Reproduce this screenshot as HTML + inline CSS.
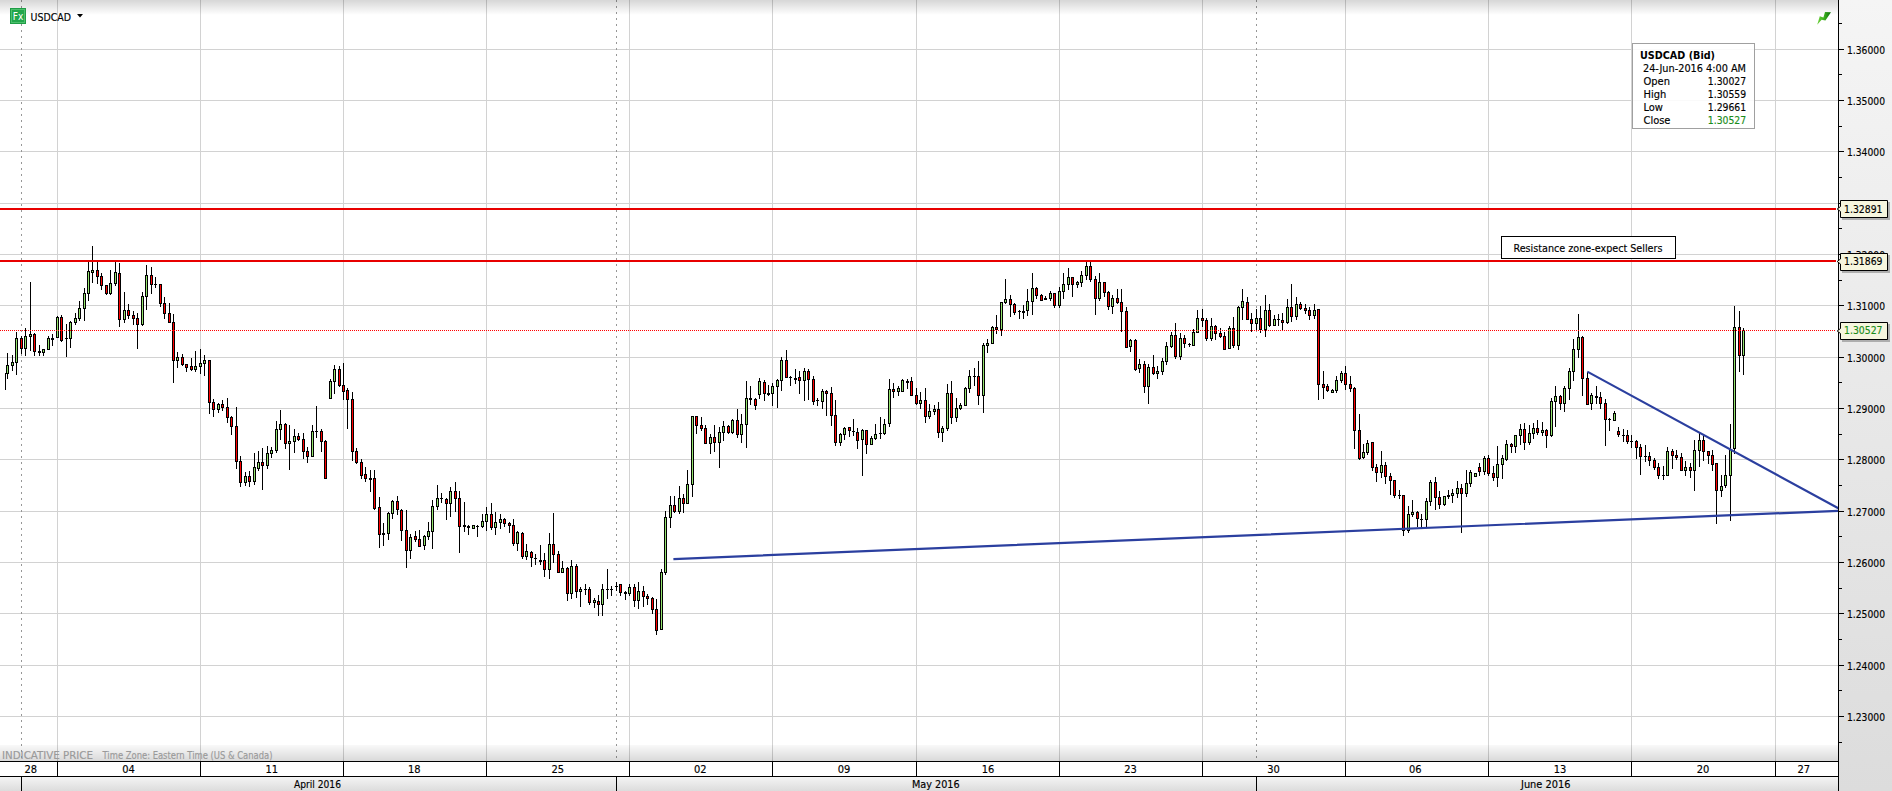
<!DOCTYPE html>
<html><head><meta charset="utf-8"><title>USDCAD</title>
<style>
html,body{margin:0;padding:0;background:#fff;width:1892px;height:791px;overflow:hidden}
svg{display:block}
text{font-family:'DejaVu Sans','Liberation Sans',sans-serif;font-stretch:condensed;font-size:11px;stroke-width:0.15px}
</style></head><body>
<svg width="1892" height="791" viewBox="0 0 1892 791">
<defs>
<linearGradient id="gTop" x1="0" y1="0" x2="0" y2="1">
<stop offset="0" stop-color="#000" stop-opacity="0.16"/><stop offset="1" stop-color="#000" stop-opacity="0"/></linearGradient>
<linearGradient id="gBot" x1="0" y1="0" x2="0" y2="1">
<stop offset="0" stop-color="#000" stop-opacity="0.025"/><stop offset="1" stop-color="#000" stop-opacity="0.15"/></linearGradient>
<linearGradient id="gAxis" x1="0" y1="0" x2="0" y2="1">
<stop offset="0" stop-color="#f5f5f5"/><stop offset="1" stop-color="#dcdcdc"/></linearGradient>
<linearGradient id="gMonth" x1="0" y1="0" x2="0" y2="1">
<stop offset="0" stop-color="#f4f4f4"/><stop offset="1" stop-color="#dcdcdc"/></linearGradient>
<linearGradient id="gIcon" x1="0" y1="0" x2="1" y2="0">
<stop offset="0" stop-color="#6fd23c"/><stop offset="0.5" stop-color="#3cb01e"/><stop offset="1" stop-color="#0a6e0a"/></linearGradient>
<clipPath id="plot"><rect x="5" y="0" width="1833" height="761"/></clipPath>
</defs>

<rect x="0" y="0" width="1838" height="761" fill="#fff"/>
<path d="M0 49.5H1838M0 100.5H1838M0 151.5H1838M0 203.5H1838M0 254.5H1838M0 305.5H1838M0 357.5H1838M0 408.5H1838M0 459.5H1838M0 511.5H1838M0 562.5H1838M0 613.5H1838M0 665.5H1838M0 716.5H1838M57.5 0V761M200.5 0V761M343.5 0V761M486.5 0V761M629.5 0V761M772.5 0V761M916.5 0V761M1059.5 0V761M1202.5 0V761M1345.5 0V761M1488.5 0V761M1631.5 0V761M1775.5 0V761" stroke="#d2d2d2" stroke-width="1" fill="none" shape-rendering="crispEdges"/>
<path d="M21.5 0V761" stroke="#979797" stroke-width="1" stroke-dasharray="2 4" fill="none" shape-rendering="crispEdges"/>
<path d="M616.5 0V761" stroke="#979797" stroke-width="1" stroke-dasharray="2 4" fill="none" shape-rendering="crispEdges"/>
<path d="M1256.5 0V761" stroke="#979797" stroke-width="1" stroke-dasharray="2 4" fill="none" shape-rendering="crispEdges"/>
<g clip-path="url(#plot)" shape-rendering="crispEdges">
<path d="M3 373h3v17h-3zM7 353h1v26h-1zM6 365h3v9h-3zM12 355h1v16h-1zM11 362h3v4h-3zM16 332h1v43h-1zM15 338h3v25h-3zM21 336h1v18h-1zM20 338h3v11h-3zM25 328h1v28h-1zM24 336h3v13h-3zM30 282h1v69h-1zM29 334h3v3h-3zM34 333h1v23h-1zM33 334h3v18h-3zM39 345h1v11h-1zM38 351h3v2h-3zM43 349h1v7h-1zM42 349h3v4h-3zM48 336h1v14h-1zM47 338h3v12h-3zM52 334h1v12h-1zM51 338h3v2h-3zM57 316h1v22h-1zM56 317h3v21h-3zM61 315h1v27h-1zM60 317h3v24h-3zM66 324h1v33h-1zM65 338h3v1h-3zM70 321h1v27h-1zM69 322h3v17h-3zM75 313h1v12h-1zM74 318h3v5h-3zM79 301h1v20h-1zM78 308h3v11h-3zM84 288h1v33h-1zM83 293h3v16h-3zM88 261h1v40h-1zM87 271h3v23h-3zM92 246h1v37h-1zM91 270h3v3h-3zM97 261h1v23h-1zM96 270h3v7h-3zM101 273h1v17h-1zM100 276h3v10h-3zM106 285h1v10h-1zM105 285h3v9h-3zM110 270h1v25h-1zM109 283h3v11h-3zM115 261h1v25h-1zM114 272h3v12h-3zM119 263h1v64h-1zM118 273h3v47h-3zM124 292h1v31h-1zM123 310h3v10h-3zM128 304h1v15h-1zM127 310h3v6h-3zM133 311h1v14h-1zM132 315h3v4h-3zM137 313h1v36h-1zM136 318h3v7h-3zM142 292h1v34h-1zM141 296h3v29h-3zM146 265h1v45h-1zM145 275h3v22h-3zM151 267h1v27h-1zM150 275h3v10h-3zM155 277h1v11h-1zM154 284h3v1h-3zM160 284h1v23h-1zM159 284h3v20h-3zM164 297h1v22h-1zM163 303h3v11h-3zM169 303h1v20h-1zM168 313h3v10h-3zM173 314h1v69h-1zM172 322h3v39h-3zM177 352h1v16h-1zM176 357h3v4h-3zM182 354h1v12h-1zM181 357h3v8h-3zM186 364h1v8h-1zM185 364h3v4h-3zM191 358h1v13h-1zM190 366h3v4h-3zM195 351h1v21h-1zM194 366h3v4h-3zM200 349h1v25h-1zM199 363h3v4h-3zM204 355h1v21h-1zM203 360h3v4h-3zM209 360h1v54h-1zM208 360h3v43h-3zM213 399h1v18h-1zM212 402h3v8h-3zM218 403h1v10h-1zM217 404h3v6h-3zM222 400h1v11h-1zM221 404h3v4h-3zM227 398h1v25h-1zM226 407h3v11h-3zM231 416h1v19h-1zM230 417h3v10h-3zM236 407h1v62h-1zM235 426h3v36h-3zM240 456h1v31h-1zM239 461h3v22h-3zM245 472h1v14h-1zM244 476h3v7h-3zM249 471h1v16h-1zM248 476h3v6h-3zM254 453h1v32h-1zM253 467h3v15h-3zM258 451h1v20h-1zM257 462h3v7h-3zM262 448h1v42h-1zM261 462h3v4h-3zM267 446h1v23h-1zM266 453h3v13h-3zM271 447h1v11h-1zM270 450h3v4h-3zM276 421h1v32h-1zM275 429h3v22h-3zM280 410h1v30h-1zM279 424h3v6h-3zM285 423h1v26h-1zM284 424h3v20h-3zM289 425h1v45h-1zM288 441h3v3h-3zM294 429h1v24h-1zM293 436h3v6h-3zM298 433h1v8h-1zM297 436h3v4h-3zM303 433h1v26h-1zM302 439h3v13h-3zM307 447h1v16h-1zM306 451h3v6h-3zM312 425h1v32h-1zM311 431h3v26h-3zM316 406h1v32h-1zM315 431h3v1h-3zM321 429h1v23h-1zM320 431h3v11h-3zM325 440h1v39h-1zM324 441h3v38h-3zM330 379h1v20h-1zM329 381h3v18h-3zM334 365h1v29h-1zM333 369h3v13h-3zM339 366h1v21h-1zM338 369h3v17h-3zM343 363h1v37h-1zM342 385h3v7h-3zM347 388h1v41h-1zM346 390h3v10h-3zM352 392h1v69h-1zM351 399h3v53h-3zM356 448h1v16h-1zM355 451h3v12h-3zM361 459h1v20h-1zM360 462h3v14h-3zM365 467h1v15h-1zM364 474h3v5h-3zM370 470h1v22h-1zM369 478h3v2h-3zM374 470h1v40h-1zM373 478h3v31h-3zM379 497h1v51h-1zM378 507h3v28h-3zM383 523h1v23h-1zM382 533h3v2h-3zM388 512h1v28h-1zM387 513h3v21h-3zM392 500h1v19h-1zM391 501h3v13h-3zM397 496h1v19h-1zM396 501h3v9h-3zM401 509h1v32h-1zM400 510h3v21h-3zM406 510h1v58h-1zM405 530h3v21h-3zM410 534h1v25h-1zM409 537h3v14h-3zM415 531h1v11h-1zM414 536h3v4h-3zM419 530h1v17h-1zM418 539h3v8h-3zM424 535h1v15h-1zM423 536h3v10h-3zM428 522h1v18h-1zM427 531h3v6h-3zM432 500h1v49h-1zM431 506h3v26h-3zM437 485h1v25h-1zM436 498h3v9h-3zM441 493h1v10h-1zM440 498h3v1h-3zM446 498h1v22h-1zM445 499h3v5h-3zM450 487h1v30h-1zM449 491h3v13h-3zM455 482h1v30h-1zM454 491h3v8h-3zM459 491h1v62h-1zM458 498h3v29h-3zM464 502h1v30h-1zM463 525h3v2h-3zM468 525h1v10h-1zM467 526h3v2h-3zM473 525h1v4h-1zM472 525h3v4h-3zM477 525h1v12h-1zM476 526h3v1h-3zM482 514h1v14h-1zM481 521h3v6h-3zM486 507h1v24h-1zM485 514h3v8h-3zM491 503h1v27h-1zM490 514h3v14h-3zM495 512h1v23h-1zM494 522h3v6h-3zM500 514h1v15h-1zM499 519h3v4h-3zM504 518h1v9h-1zM503 519h3v5h-3zM509 522h1v11h-1zM508 523h3v3h-3zM513 519h1v27h-1zM512 525h3v19h-3zM517 531h1v20h-1zM516 532h3v12h-3zM522 532h1v27h-1zM521 533h3v24h-3zM526 544h1v16h-1zM525 551h3v6h-3zM531 551h1v16h-1zM530 552h3v6h-3zM535 554h1v11h-1zM534 558h3v1h-3zM540 545h1v20h-1zM539 560h3v2h-3zM544 553h1v24h-1zM543 560h3v10h-3zM549 533h1v46h-1zM548 544h3v26h-3zM553 513h1v50h-1zM552 544h3v11h-3zM558 551h1v22h-1zM557 554h3v19h-3zM562 561h1v12h-1zM561 568h3v5h-3zM567 567h1v34h-1zM566 568h3v26h-3zM571 560h1v39h-1zM570 566h3v28h-3zM576 564h1v34h-1zM575 566h3v26h-3zM580 587h1v20h-1zM579 589h3v3h-3zM585 584h1v11h-1zM584 589h3v1h-3zM589 587h1v18h-1zM588 589h3v14h-3zM594 598h1v10h-1zM593 600h3v3h-3zM598 595h1v21h-1zM597 601h3v4h-3zM602 584h1v32h-1zM601 589h3v16h-3zM607 569h1v30h-1zM606 589h3v1h-3zM611 586h1v10h-1zM610 589h3v1h-3zM616 582h1v9h-1zM615 586h3v1h-3zM620 584h1v12h-1zM619 584h3v9h-3zM625 591h1v9h-1zM624 592h3v2h-3zM629 584h1v12h-1zM628 587h3v7h-3zM634 584h1v23h-1zM633 587h3v14h-3zM638 582h1v27h-1zM637 591h3v10h-3zM643 586h1v21h-1zM642 591h3v6h-3zM647 594h1v11h-1zM646 596h3v3h-3zM652 597h1v17h-1zM651 598h3v12h-3zM656 599h1v36h-1zM655 609h3v22h-3zM661 569h1v61h-1zM660 572h3v58h-3zM665 511h1v64h-1zM664 517h3v56h-3zM670 496h1v32h-1zM669 505h3v13h-3zM674 496h1v17h-1zM673 505h3v7h-3zM679 486h1v28h-1zM678 498h3v14h-3zM683 494h1v19h-1zM682 498h3v6h-3zM687 470h1v34h-1zM686 484h3v20h-3zM692 416h1v81h-1zM691 416h3v69h-3zM696 416h1v18h-1zM695 416h3v10h-3zM701 417h1v14h-1zM700 425h3v4h-3zM705 425h1v19h-1zM704 428h3v16h-3zM710 434h1v20h-1zM709 437h3v7h-3zM714 425h1v27h-1zM713 437h3v6h-3zM719 427h1v41h-1zM718 432h3v11h-3zM723 421h1v20h-1zM722 426h3v7h-3zM728 425h1v9h-1zM727 426h3v7h-3zM732 419h1v15h-1zM731 420h3v13h-3zM737 409h1v29h-1zM736 420h3v15h-3zM741 414h1v29h-1zM740 424h3v11h-3zM746 381h1v67h-1zM745 398h3v27h-3zM750 386h1v19h-1zM749 398h3v2h-3zM755 398h1v12h-1zM754 399h3v7h-3zM759 378h1v21h-1zM758 381h3v14h-3zM764 380h1v21h-1zM763 382h3v12h-3zM768 385h1v11h-1zM767 393h3v2h-3zM772 383h1v23h-1zM771 386h3v8h-3zM777 379h1v29h-1zM776 380h3v7h-3zM781 357h1v34h-1zM780 360h3v21h-3zM786 350h1v28h-1zM785 360h3v18h-3zM790 376h1v10h-1zM789 377h3v1h-3zM795 369h1v15h-1zM794 378h3v2h-3zM799 371h1v23h-1zM798 377h3v4h-3zM804 368h1v33h-1zM803 371h3v10h-3zM808 369h1v31h-1zM807 371h3v9h-3zM813 376h1v29h-1zM812 379h3v23h-3zM817 398h1v8h-1zM816 400h3v1h-3zM822 389h1v20h-1zM821 391h3v11h-3zM826 390h1v26h-1zM825 391h3v3h-3zM831 387h1v39h-1zM830 393h3v23h-3zM835 400h1v46h-1zM834 415h3v28h-3zM840 433h1v13h-1zM839 434h3v9h-3zM844 427h1v13h-1zM843 428h3v7h-3zM849 427h1v10h-1zM848 427h3v4h-3zM853 419h1v17h-1zM852 431h3v1h-3zM857 428h1v21h-1zM856 432h3v9h-3zM862 429h1v47h-1zM861 430h3v10h-3zM866 430h1v24h-1zM865 430h3v15h-3zM871 436h1v9h-1zM870 438h3v7h-3zM875 424h1v16h-1zM874 434h3v5h-3zM880 417h1v22h-1zM879 433h3v1h-3zM884 419h1v16h-1zM883 424h3v10h-3zM889 379h1v48h-1zM888 389h3v35h-3zM893 383h1v15h-1zM892 389h3v3h-3zM898 386h1v10h-1zM897 388h3v4h-3zM902 379h1v13h-1zM901 380h3v12h-3zM907 379h1v10h-1zM906 381h3v2h-3zM911 377h1v19h-1zM910 381h3v15h-3zM916 388h1v17h-1zM915 395h3v9h-3zM920 392h1v17h-1zM919 400h3v4h-3zM925 388h1v35h-1zM924 400h3v17h-3zM929 404h1v15h-1zM928 411h3v6h-3zM934 405h1v10h-1zM933 409h3v3h-3zM938 402h1v36h-1zM937 409h3v24h-3zM942 426h1v16h-1zM941 428h3v5h-3zM947 384h1v47h-1zM946 393h3v36h-3zM951 381h1v43h-1zM950 393h3v25h-3zM956 398h1v24h-1zM955 408h3v10h-3zM960 403h1v7h-1zM959 405h3v4h-3zM965 387h1v19h-1zM964 388h3v18h-3zM969 370h1v23h-1zM968 376h3v13h-3zM974 368h1v18h-1zM973 376h3v1h-3zM978 361h1v44h-1zM977 376h3v20h-3zM983 343h1v70h-1zM982 345h3v51h-3zM987 339h1v14h-1zM986 343h3v3h-3zM992 326h1v18h-1zM991 327h3v17h-3zM996 315h1v19h-1zM995 327h3v3h-3zM1001 302h1v34h-1zM1000 302h3v28h-3zM1005 279h1v25h-1zM1004 299h3v4h-3zM1010 295h1v22h-1zM1009 299h3v6h-3zM1014 303h1v12h-1zM1013 304h3v9h-3zM1019 310h1v9h-1zM1018 311h3v1h-3zM1023 305h1v14h-1zM1022 311h3v2h-3zM1027 289h1v27h-1zM1026 301h3v10h-3zM1032 273h1v42h-1zM1031 288h3v14h-3zM1036 287h1v12h-1zM1035 288h3v8h-3zM1041 294h1v7h-1zM1040 295h3v6h-3zM1045 296h1v4h-1zM1044 298h3v2h-3zM1050 291h1v10h-1zM1049 293h3v6h-3zM1054 293h1v15h-1zM1053 293h3v13h-3zM1059 287h1v21h-1zM1058 291h3v15h-3zM1063 273h1v26h-1zM1062 284h3v8h-3zM1068 268h1v22h-1zM1067 277h3v8h-3zM1072 277h1v20h-1zM1071 277h3v8h-3zM1077 281h1v7h-1zM1076 282h3v3h-3zM1081 271h1v16h-1zM1080 275h3v8h-3zM1086 262h1v18h-1zM1085 266h3v10h-3zM1090 262h1v20h-1zM1089 266h3v14h-3zM1095 276h1v39h-1zM1094 279h3v20h-3zM1099 273h1v28h-1zM1098 282h3v17h-3zM1104 282h1v15h-1zM1103 282h3v11h-3zM1108 291h1v19h-1zM1107 292h3v15h-3zM1112 295h1v19h-1zM1111 298h3v9h-3zM1117 289h1v15h-1zM1116 298h3v5h-3zM1121 289h1v43h-1zM1120 302h3v10h-3zM1126 307h1v41h-1zM1125 311h3v37h-3zM1130 339h1v13h-1zM1129 340h3v7h-3zM1135 339h1v32h-1zM1134 340h3v30h-3zM1139 359h1v14h-1zM1138 364h3v5h-3zM1144 361h1v32h-1zM1143 364h3v23h-3zM1148 364h1v40h-1zM1147 367h3v20h-3zM1153 355h1v20h-1zM1152 367h3v7h-3zM1157 366h1v13h-1zM1156 371h3v3h-3zM1162 358h1v17h-1zM1161 361h3v11h-3zM1166 342h1v23h-1zM1165 346h3v16h-3zM1171 332h1v16h-1zM1170 335h3v12h-3zM1175 323h1v36h-1zM1174 335h3v22h-3zM1180 333h1v27h-1zM1179 338h3v19h-3zM1184 335h1v13h-1zM1183 338h3v6h-3zM1189 343h1v4h-1zM1188 344h3v1h-3zM1193 329h1v17h-1zM1192 332h3v14h-3zM1197 310h1v23h-1zM1196 318h3v15h-3zM1202 309h1v18h-1zM1201 318h3v3h-3zM1206 318h1v23h-1zM1205 320h3v19h-3zM1211 318h1v23h-1zM1210 326h3v13h-3zM1215 325h1v15h-1zM1214 326h3v8h-3zM1220 328h1v10h-1zM1219 333h3v4h-3zM1224 332h1v18h-1zM1223 336h3v14h-3zM1229 326h1v23h-1zM1228 328h3v21h-3zM1233 317h1v31h-1zM1232 328h3v18h-3zM1238 306h1v44h-1zM1237 307h3v39h-3zM1242 289h1v31h-1zM1241 301h3v7h-3zM1247 297h1v23h-1zM1246 302h3v18h-3zM1251 313h1v19h-1zM1250 319h3v5h-3zM1256 309h1v21h-1zM1255 318h3v6h-3zM1260 306h1v27h-1zM1259 318h3v12h-3zM1265 295h1v42h-1zM1264 310h3v20h-3zM1269 304h1v23h-1zM1268 310h3v16h-3zM1274 315h1v11h-1zM1273 319h3v7h-3zM1278 314h1v12h-1zM1277 319h3v1h-3zM1282 313h1v17h-1zM1281 320h3v3h-3zM1287 299h1v25h-1zM1286 307h3v16h-3zM1291 284h1v38h-1zM1290 307h3v10h-3zM1296 297h1v23h-1zM1295 304h3v13h-3zM1300 302h1v8h-1zM1299 304h3v5h-3zM1305 304h1v10h-1zM1304 308h3v3h-3zM1309 307h1v13h-1zM1308 310h3v6h-3zM1314 304h1v15h-1zM1313 310h3v6h-3zM1318 309h1v91h-1zM1317 309h3v76h-3zM1323 371h1v28h-1zM1322 384h3v4h-3zM1327 384h1v8h-1zM1326 386h3v5h-3zM1332 389h1v4h-1zM1331 390h3v3h-3zM1336 376h1v17h-1zM1335 380h3v11h-3zM1341 371h1v12h-1zM1340 373h3v8h-3zM1345 366h1v24h-1zM1344 373h3v12h-3zM1350 376h1v16h-1zM1349 384h3v5h-3zM1354 387h1v62h-1zM1353 388h3v43h-3zM1359 414h1v46h-1zM1358 430h3v29h-3zM1363 444h1v15h-1zM1362 452h3v6h-3zM1367 440h1v15h-1zM1366 443h3v10h-3zM1372 442h1v29h-1zM1371 442h3v26h-3zM1376 464h1v18h-1zM1375 467h3v6h-3zM1381 451h1v27h-1zM1380 465h3v8h-3zM1385 462h1v22h-1zM1384 465h3v12h-3zM1390 473h1v22h-1zM1389 476h3v5h-3zM1394 480h1v18h-1zM1393 480h3v16h-3zM1399 490h1v9h-1zM1398 495h3v1h-3zM1403 495h1v41h-1zM1402 495h3v36h-3zM1408 506h1v27h-1zM1407 514h3v17h-3zM1412 500h1v17h-1zM1411 512h3v3h-3zM1417 511h1v16h-1zM1416 512h3v7h-3zM1421 514h1v14h-1zM1420 519h3v1h-3zM1426 498h1v30h-1zM1425 501h3v19h-3zM1430 480h1v26h-1zM1429 482h3v20h-3zM1435 477h1v33h-1zM1434 482h3v16h-3zM1439 491h1v18h-1zM1438 497h3v8h-3zM1444 496h1v10h-1zM1443 496h3v9h-3zM1448 490h1v9h-1zM1447 495h3v2h-3zM1452 489h1v14h-1zM1451 493h3v3h-3zM1457 481h1v17h-1zM1456 488h3v6h-3zM1461 484h1v49h-1zM1460 488h3v6h-3zM1466 470h1v27h-1zM1465 483h3v11h-3zM1470 470h1v17h-1zM1469 472h3v12h-3zM1475 473h1v4h-1zM1474 473h3v4h-3zM1479 463h1v13h-1zM1478 467h3v5h-3zM1484 456h1v19h-1zM1483 458h3v14h-3zM1488 455h1v21h-1zM1487 458h3v16h-3zM1493 466h1v15h-1zM1492 473h3v5h-3zM1497 446h1v41h-1zM1496 464h3v14h-3zM1502 455h1v24h-1zM1501 458h3v7h-3zM1506 440h1v21h-1zM1505 444h3v16h-3zM1511 443h1v10h-1zM1510 444h3v3h-3zM1515 435h1v18h-1zM1514 435h3v12h-3zM1520 424h1v21h-1zM1519 429h3v7h-3zM1524 423h1v27h-1zM1523 429h3v14h-3zM1529 425h1v20h-1zM1528 433h3v10h-3zM1533 423h1v16h-1zM1532 428h3v6h-3zM1537 420h1v15h-1zM1536 428h3v5h-3zM1542 422h1v14h-1zM1541 430h3v3h-3zM1546 429h1v19h-1zM1545 430h3v6h-3zM1551 398h1v39h-1zM1550 401h3v35h-3zM1555 386h1v41h-1zM1554 396h3v6h-3zM1560 395h1v15h-1zM1559 396h3v8h-3zM1564 386h1v26h-1zM1563 388h3v16h-3zM1569 368h1v32h-1zM1568 371h3v18h-3zM1573 339h1v42h-1zM1572 349h3v23h-3zM1578 314h1v44h-1zM1577 337h3v13h-3zM1582 336h1v60h-1zM1581 337h3v42h-3zM1587 372h1v33h-1zM1586 378h3v27h-3zM1591 393h1v17h-1zM1590 395h3v9h-3zM1596 386h1v18h-1zM1595 396h3v2h-3zM1600 392h1v17h-1zM1599 397h3v7h-3zM1605 399h1v47h-1zM1604 403h3v17h-3zM1609 418h1v13h-1zM1608 419h3v1h-3zM1614 411h1v10h-1zM1613 413h3v8h-3zM1618 427h1v10h-1zM1617 431h3v4h-3zM1623 429h1v13h-1zM1622 435h3v1h-3zM1627 430h1v14h-1zM1626 435h3v7h-3zM1631 435h1v13h-1zM1630 441h3v1h-3zM1636 440h1v19h-1zM1635 441h3v7h-3zM1640 444h1v31h-1zM1639 447h3v10h-3zM1645 445h1v17h-1zM1644 456h3v1h-3zM1649 452h1v14h-1zM1648 456h3v5h-3zM1654 458h1v12h-1zM1653 460h3v8h-3zM1658 463h1v16h-1zM1657 467h3v9h-3zM1663 466h1v14h-1zM1662 475h3v1h-3zM1667 447h1v29h-1zM1666 451h3v25h-3zM1672 449h1v20h-1zM1671 451h3v5h-3zM1676 450h1v10h-1zM1675 455h3v3h-3zM1681 453h1v18h-1zM1680 457h3v14h-3zM1685 461h1v15h-1zM1684 467h3v4h-3zM1690 463h1v15h-1zM1689 467h3v4h-3zM1694 440h1v51h-1zM1693 450h3v21h-3zM1699 433h1v34h-1zM1698 440h3v11h-3zM1703 436h1v25h-1zM1702 440h3v12h-3zM1708 451h1v13h-1zM1707 451h3v5h-3zM1712 450h1v21h-1zM1711 455h3v10h-3zM1716 463h1v61h-1zM1715 463h3v28h-3zM1721 475h1v22h-1zM1720 486h3v5h-3zM1725 455h1v33h-1zM1724 475h3v11h-3zM1730 424h1v97h-1zM1729 449h3v27h-3zM1734 306h1v148h-1zM1733 327h3v122h-3zM1739 311h1v61h-1zM1738 327h3v29h-3zM1743 328h1v47h-1zM1742 330h3v26h-3z" fill="#000"/>
<path d="M4 374h1v15h-1zM7 366h1v7h-1zM12 363h1v2h-1zM16 339h1v23h-1zM25 337h1v11h-1zM30 335h1v1h-1zM43 350h1v2h-1zM48 339h1v10h-1zM57 318h1v19h-1zM70 323h1v15h-1zM75 319h1v3h-1zM79 309h1v9h-1zM84 294h1v14h-1zM88 272h1v21h-1zM92 271h1v1h-1zM110 284h1v9h-1zM115 273h1v10h-1zM124 311h1v8h-1zM142 297h1v27h-1zM146 276h1v20h-1zM177 358h1v2h-1zM195 367h1v2h-1zM200 364h1v2h-1zM204 361h1v2h-1zM218 405h1v4h-1zM245 477h1v5h-1zM254 468h1v13h-1zM258 463h1v5h-1zM267 454h1v11h-1zM271 451h1v2h-1zM276 430h1v20h-1zM280 425h1v4h-1zM289 442h1v1h-1zM294 437h1v4h-1zM312 432h1v24h-1zM330 382h1v16h-1zM334 370h1v11h-1zM388 514h1v19h-1zM392 502h1v11h-1zM410 538h1v12h-1zM424 537h1v8h-1zM428 532h1v4h-1zM432 507h1v24h-1zM437 499h1v7h-1zM450 492h1v11h-1zM473 526h1v2h-1zM482 522h1v4h-1zM486 515h1v6h-1zM495 523h1v4h-1zM500 520h1v2h-1zM517 533h1v10h-1zM526 552h1v4h-1zM549 545h1v24h-1zM562 569h1v3h-1zM571 567h1v26h-1zM580 590h1v1h-1zM594 601h1v1h-1zM602 590h1v14h-1zM629 588h1v5h-1zM638 592h1v8h-1zM661 573h1v56h-1zM665 518h1v54h-1zM670 506h1v11h-1zM679 499h1v12h-1zM687 485h1v18h-1zM692 417h1v67h-1zM710 438h1v5h-1zM719 433h1v9h-1zM723 427h1v5h-1zM732 421h1v11h-1zM741 425h1v9h-1zM746 399h1v25h-1zM759 382h1v12h-1zM772 387h1v6h-1zM777 381h1v5h-1zM781 361h1v19h-1zM804 372h1v8h-1zM822 392h1v9h-1zM840 435h1v7h-1zM844 429h1v5h-1zM862 431h1v8h-1zM871 439h1v5h-1zM875 435h1v3h-1zM884 425h1v8h-1zM889 390h1v33h-1zM898 389h1v2h-1zM902 381h1v10h-1zM920 401h1v2h-1zM929 412h1v4h-1zM934 410h1v1h-1zM942 429h1v3h-1zM947 394h1v34h-1zM956 409h1v8h-1zM960 406h1v2h-1zM965 389h1v16h-1zM969 377h1v11h-1zM983 346h1v49h-1zM987 344h1v1h-1zM992 328h1v15h-1zM1001 303h1v26h-1zM1005 300h1v2h-1zM1027 302h1v8h-1zM1032 289h1v12h-1zM1050 294h1v4h-1zM1059 292h1v13h-1zM1063 285h1v6h-1zM1068 278h1v6h-1zM1077 283h1v1h-1zM1081 276h1v6h-1zM1086 267h1v8h-1zM1099 283h1v15h-1zM1112 299h1v7h-1zM1130 341h1v5h-1zM1139 365h1v3h-1zM1148 368h1v18h-1zM1157 372h1v1h-1zM1162 362h1v9h-1zM1166 347h1v14h-1zM1171 336h1v10h-1zM1180 339h1v17h-1zM1193 333h1v12h-1zM1197 319h1v13h-1zM1211 327h1v11h-1zM1229 329h1v19h-1zM1238 308h1v37h-1zM1242 302h1v5h-1zM1256 319h1v4h-1zM1265 311h1v18h-1zM1274 320h1v5h-1zM1287 308h1v14h-1zM1296 305h1v11h-1zM1314 311h1v4h-1zM1332 391h1v1h-1zM1336 381h1v9h-1zM1341 374h1v6h-1zM1363 453h1v4h-1zM1367 444h1v8h-1zM1381 466h1v6h-1zM1408 515h1v15h-1zM1412 513h1v1h-1zM1426 502h1v17h-1zM1430 483h1v18h-1zM1444 497h1v7h-1zM1452 494h1v1h-1zM1457 489h1v4h-1zM1466 484h1v9h-1zM1470 473h1v10h-1zM1475 474h1v2h-1zM1484 459h1v12h-1zM1497 465h1v12h-1zM1502 459h1v5h-1zM1506 445h1v14h-1zM1515 436h1v10h-1zM1520 430h1v5h-1zM1529 434h1v8h-1zM1533 429h1v4h-1zM1542 431h1v1h-1zM1551 402h1v33h-1zM1555 397h1v4h-1zM1564 389h1v14h-1zM1569 372h1v16h-1zM1573 350h1v21h-1zM1578 338h1v11h-1zM1591 396h1v7h-1zM1614 414h1v6h-1zM1667 452h1v23h-1zM1685 468h1v2h-1zM1694 451h1v19h-1zM1699 441h1v9h-1zM1721 487h1v3h-1zM1725 476h1v9h-1zM1730 450h1v25h-1zM1734 328h1v120h-1zM1743 331h1v24h-1z" fill="#94e46e"/>
<path d="M21 339h1v9h-1zM34 335h1v16h-1zM61 318h1v22h-1zM97 271h1v5h-1zM101 277h1v8h-1zM106 286h1v7h-1zM119 274h1v45h-1zM128 311h1v4h-1zM133 316h1v2h-1zM137 319h1v5h-1zM151 276h1v8h-1zM160 285h1v18h-1zM164 304h1v9h-1zM169 314h1v8h-1zM173 323h1v37h-1zM182 358h1v6h-1zM186 365h1v2h-1zM191 367h1v2h-1zM209 361h1v41h-1zM213 403h1v6h-1zM222 405h1v2h-1zM227 408h1v9h-1zM231 418h1v8h-1zM236 427h1v34h-1zM240 462h1v20h-1zM249 477h1v4h-1zM262 463h1v2h-1zM285 425h1v18h-1zM298 437h1v2h-1zM303 440h1v11h-1zM307 452h1v4h-1zM321 432h1v9h-1zM325 442h1v36h-1zM339 370h1v15h-1zM343 386h1v5h-1zM347 391h1v8h-1zM352 400h1v51h-1zM356 452h1v10h-1zM361 463h1v12h-1zM365 475h1v3h-1zM374 479h1v29h-1zM379 508h1v26h-1zM397 502h1v7h-1zM401 511h1v19h-1zM406 531h1v19h-1zM415 537h1v2h-1zM419 540h1v6h-1zM446 500h1v3h-1zM455 492h1v6h-1zM459 499h1v27h-1zM491 515h1v12h-1zM504 520h1v3h-1zM509 524h1v1h-1zM513 526h1v17h-1zM522 534h1v22h-1zM531 553h1v4h-1zM544 561h1v8h-1zM553 545h1v9h-1zM558 555h1v17h-1zM567 569h1v24h-1zM576 567h1v24h-1zM589 590h1v12h-1zM598 602h1v2h-1zM620 585h1v7h-1zM634 588h1v12h-1zM643 592h1v4h-1zM647 597h1v1h-1zM652 599h1v10h-1zM656 610h1v20h-1zM674 506h1v5h-1zM683 499h1v4h-1zM696 417h1v8h-1zM701 426h1v2h-1zM705 429h1v14h-1zM714 438h1v4h-1zM728 427h1v5h-1zM737 421h1v13h-1zM755 400h1v5h-1zM764 383h1v10h-1zM786 361h1v16h-1zM799 378h1v2h-1zM808 372h1v7h-1zM813 380h1v21h-1zM826 392h1v1h-1zM831 394h1v21h-1zM835 416h1v26h-1zM849 428h1v2h-1zM857 433h1v7h-1zM866 431h1v13h-1zM893 390h1v1h-1zM911 382h1v13h-1zM916 396h1v7h-1zM925 401h1v15h-1zM938 410h1v22h-1zM951 394h1v23h-1zM978 377h1v18h-1zM996 328h1v1h-1zM1010 300h1v4h-1zM1014 305h1v7h-1zM1036 289h1v6h-1zM1041 296h1v4h-1zM1054 294h1v11h-1zM1072 278h1v6h-1zM1090 267h1v12h-1zM1095 280h1v18h-1zM1104 283h1v9h-1zM1108 293h1v13h-1zM1117 299h1v3h-1zM1121 303h1v8h-1zM1126 312h1v35h-1zM1135 341h1v28h-1zM1144 365h1v21h-1zM1153 368h1v5h-1zM1175 336h1v20h-1zM1184 339h1v4h-1zM1202 319h1v1h-1zM1206 321h1v17h-1zM1215 327h1v6h-1zM1220 334h1v2h-1zM1224 337h1v12h-1zM1233 329h1v16h-1zM1247 303h1v16h-1zM1251 320h1v3h-1zM1260 319h1v10h-1zM1269 311h1v14h-1zM1282 321h1v1h-1zM1291 308h1v8h-1zM1300 305h1v3h-1zM1305 309h1v1h-1zM1309 311h1v4h-1zM1318 310h1v74h-1zM1323 385h1v2h-1zM1327 387h1v3h-1zM1345 374h1v10h-1zM1350 385h1v3h-1zM1354 389h1v41h-1zM1359 431h1v27h-1zM1372 443h1v24h-1zM1376 468h1v4h-1zM1385 466h1v10h-1zM1390 477h1v3h-1zM1394 481h1v14h-1zM1403 496h1v34h-1zM1417 513h1v5h-1zM1435 483h1v14h-1zM1439 498h1v6h-1zM1461 489h1v4h-1zM1479 468h1v3h-1zM1488 459h1v14h-1zM1493 474h1v3h-1zM1511 445h1v1h-1zM1524 430h1v12h-1zM1537 429h1v3h-1zM1546 431h1v4h-1zM1560 397h1v6h-1zM1582 338h1v40h-1zM1587 379h1v25h-1zM1600 398h1v5h-1zM1605 404h1v15h-1zM1618 432h1v2h-1zM1627 436h1v5h-1zM1636 442h1v5h-1zM1640 448h1v8h-1zM1649 457h1v3h-1zM1654 461h1v6h-1zM1658 468h1v7h-1zM1672 452h1v3h-1zM1676 456h1v1h-1zM1681 458h1v12h-1zM1690 468h1v2h-1zM1703 441h1v10h-1zM1708 452h1v3h-1zM1712 456h1v8h-1zM1716 464h1v26h-1zM1739 328h1v27h-1z" fill="#ff0000"/>
</g>
<rect x="0" y="208" width="1836" height="2" fill="#e80000"/>
<rect x="0" y="260" width="1836" height="2" fill="#e80000"/>
<path d="M0 330.5H1836" stroke="#ff0000" stroke-width="1" stroke-dasharray="1 1" fill="none" shape-rendering="crispEdges"/>
<path d="M673.4 559.1L1838.3 510.8M1587.3 371.6L1838.3 508.2" stroke="#2b3f9f" stroke-width="2.2" fill="none"/>
<rect x="0" y="0" width="1838" height="15" fill="url(#gTop)"/>
<rect x="0" y="745" width="1838" height="16" fill="url(#gBot)"/>
<g>
<rect x="10" y="8" width="16" height="16" fill="#1f9d46"/>
<rect x="11.5" y="9.5" width="13" height="13" fill="#22a64b" stroke="#4cc06c" stroke-width="1"/>
<text x="12.8" y="20.2" fill="#fff" style="font-size:10.5px;stroke-width:0" textLength="10.5" lengthAdjust="spacingAndGlyphs" stroke="#fff">Fx</text>
<text x="30.5" y="21" fill="#000" textLength="40.5" lengthAdjust="spacingAndGlyphs" stroke="#000">USDCAD</text>
<path d="M77 14h6l-3 3.5z" fill="#000"/>
</g>
<path d="M1817.2 24.8L1819.8 16.2L1823.4 17.6L1825 12L1831 12.2L1825.4 20.6L1821.6 19.8Z" fill="url(#gIcon)"/>
<text x="2" y="759" fill="#9a9a9a" textLength="91" lengthAdjust="spacingAndGlyphs" stroke="#9a9a9a">INDICATIVE PRICE</text>
<text x="102.5" y="759" fill="#9a9a9a" textLength="170" lengthAdjust="spacingAndGlyphs" stroke="#9a9a9a">Time Zone: Eastern Time (US &amp; Canada)</text>
<rect x="1501.5" y="236.5" width="174" height="22" fill="#fff" stroke="#000" stroke-width="1" shape-rendering="crispEdges"/>
<text x="1513.5" y="252" fill="#000" textLength="149" lengthAdjust="spacingAndGlyphs" stroke="#000">Resistance zone-expect Sellers</text>
<rect x="1632.5" y="43.5" width="122" height="85" fill="#fff" fill-opacity="0.88" stroke="#a0a0a0" stroke-width="1" shape-rendering="crispEdges"/>
<text x="1640" y="58.5" fill="#000" style="font-weight:bold;stroke-width:0" textLength="75" lengthAdjust="spacingAndGlyphs" stroke="#000">USDCAD (Bid)</text>
<text x="1643" y="71.5" fill="#000" textLength="103" lengthAdjust="spacingAndGlyphs" stroke="#000">24-Jun-2016 4:00 AM</text>
<text x="1643.5" y="84.5" fill="#000" stroke="#000">Open</text>
<text x="1707.8" y="84.5" fill="#000" textLength="38.4" lengthAdjust="spacingAndGlyphs" stroke="#000">1.30027</text>
<text x="1643.5" y="97.5" fill="#000" stroke="#000">High</text>
<text x="1707.8" y="97.5" fill="#000" textLength="38.4" lengthAdjust="spacingAndGlyphs" stroke="#000">1.30559</text>
<text x="1643.5" y="110.5" fill="#000" stroke="#000">Low</text>
<text x="1707.8" y="110.5" fill="#000" textLength="38.4" lengthAdjust="spacingAndGlyphs" stroke="#000">1.29661</text>
<text x="1643.5" y="123.5" fill="#000" stroke="#000">Close</text>
<text x="1707.8" y="123.5" fill="#1a8c1a" textLength="38.4" lengthAdjust="spacingAndGlyphs" stroke="#1a8c1a">1.30527</text>
<rect x="1838" y="0" width="54" height="791" fill="url(#gAxis)"/>
<rect x="1838" y="0" width="1" height="791" fill="#000"/>
<path d="M1839 23h3v1h-3zM1839 49h5v1h-5zM1839 74h3v1h-3zM1839 100h5v1h-5zM1839 126h3v1h-3zM1839 151h5v1h-5zM1839 177h3v1h-3zM1839 203h5v1h-5zM1839 228h3v1h-3zM1839 254h5v1h-5zM1839 280h3v1h-3zM1839 305h5v1h-5zM1839 331h3v1h-3zM1839 357h5v1h-5zM1839 382h3v1h-3zM1839 408h5v1h-5zM1839 434h3v1h-3zM1839 459h5v1h-5zM1839 485h3v1h-3zM1839 511h5v1h-5zM1839 536h3v1h-3zM1839 562h5v1h-5zM1839 588h3v1h-3zM1839 613h5v1h-5zM1839 639h3v1h-3zM1839 665h5v1h-5zM1839 690h3v1h-3zM1839 716h5v1h-5zM1839 742h3v1h-3z" fill="#000" shape-rendering="crispEdges"/>
<text x="1847" y="54" fill="#000" textLength="38" lengthAdjust="spacingAndGlyphs" stroke="#000">1.36000</text>
<text x="1847" y="105" fill="#000" textLength="38" lengthAdjust="spacingAndGlyphs" stroke="#000">1.35000</text>
<text x="1847" y="156" fill="#000" textLength="38" lengthAdjust="spacingAndGlyphs" stroke="#000">1.34000</text>
<text x="1847" y="208" fill="#000" textLength="38" lengthAdjust="spacingAndGlyphs" stroke="#000">1.33000</text>
<text x="1847" y="259" fill="#000" textLength="38" lengthAdjust="spacingAndGlyphs" stroke="#000">1.32000</text>
<text x="1847" y="310" fill="#000" textLength="38" lengthAdjust="spacingAndGlyphs" stroke="#000">1.31000</text>
<text x="1847" y="362" fill="#000" textLength="38" lengthAdjust="spacingAndGlyphs" stroke="#000">1.30000</text>
<text x="1847" y="413" fill="#000" textLength="38" lengthAdjust="spacingAndGlyphs" stroke="#000">1.29000</text>
<text x="1847" y="464" fill="#000" textLength="38" lengthAdjust="spacingAndGlyphs" stroke="#000">1.28000</text>
<text x="1847" y="516" fill="#000" textLength="38" lengthAdjust="spacingAndGlyphs" stroke="#000">1.27000</text>
<text x="1847" y="567" fill="#000" textLength="38" lengthAdjust="spacingAndGlyphs" stroke="#000">1.26000</text>
<text x="1847" y="618" fill="#000" textLength="38" lengthAdjust="spacingAndGlyphs" stroke="#000">1.25000</text>
<text x="1847" y="670" fill="#000" textLength="38" lengthAdjust="spacingAndGlyphs" stroke="#000">1.24000</text>
<text x="1847" y="721" fill="#000" textLength="38" lengthAdjust="spacingAndGlyphs" stroke="#000">1.23000</text>
<rect x="1842" y="202" width="48" height="18" fill="#9a9a9a" opacity="0.75"/><path d="M1840.5 200.5H1887.5V217.5H1840.5V211.5L1837.2 209.0L1840.5 206.5Z" fill="#f6f6de" stroke="#000" stroke-width="1"/><text x="1844" y="213" fill="#000" textLength="38.5" lengthAdjust="spacingAndGlyphs" stroke="#000">1.32891</text>
<rect x="1842" y="255" width="48" height="18" fill="#9a9a9a" opacity="0.75"/><path d="M1840.5 253.5H1887.5V270.5H1840.5V264L1837.2 261.5L1840.5 259Z" fill="#f6f6de" stroke="#000" stroke-width="1"/><text x="1844" y="265" fill="#000" textLength="38.5" lengthAdjust="spacingAndGlyphs" stroke="#000">1.31869</text>
<rect x="1842" y="324" width="48" height="18" fill="#9a9a9a" opacity="0.75"/><path d="M1840.5 322.5H1887.5V339.5H1840.5V333.5L1837.2 331.0L1840.5 328.5Z" fill="#f6f6de" stroke="#000" stroke-width="1"/><text x="1844" y="334" fill="#1a8c1a" textLength="38.5" lengthAdjust="spacingAndGlyphs" stroke="#1a8c1a">1.30527</text>
<rect x="0" y="761" width="1838" height="1" fill="#000"/>
<rect x="0" y="762" width="1838" height="14" fill="#fff"/>
<rect x="0" y="776" width="1838" height="1" fill="#000"/>
<rect x="0" y="777" width="1838" height="14" fill="url(#gMonth)"/>
<path d="M57 762h1v14h-1zM200 762h1v14h-1zM343 762h1v14h-1zM486 762h1v14h-1zM629 762h1v14h-1zM772 762h1v14h-1zM916 762h1v14h-1zM1059 762h1v14h-1zM1202 762h1v14h-1zM1345 762h1v14h-1zM1488 762h1v14h-1zM1631 762h1v14h-1zM1775 762h1v14h-1zM21 777h1v14h-1zM616 777h1v14h-1zM1256 777h1v14h-1z" fill="#000" shape-rendering="crispEdges"/>
<text x="30.7" y="773" fill="#000" text-anchor="middle" stroke="#000">28</text>
<text x="128.5" y="773" fill="#000" text-anchor="middle" stroke="#000">04</text>
<text x="271.7" y="773" fill="#000" text-anchor="middle" stroke="#000">11</text>
<text x="414.2" y="773" fill="#000" text-anchor="middle" stroke="#000">18</text>
<text x="557.8" y="773" fill="#000" text-anchor="middle" stroke="#000">25</text>
<text x="700.2" y="773" fill="#000" text-anchor="middle" stroke="#000">02</text>
<text x="844" y="773" fill="#000" text-anchor="middle" stroke="#000">09</text>
<text x="988" y="773" fill="#000" text-anchor="middle" stroke="#000">16</text>
<text x="1130.5" y="773" fill="#000" text-anchor="middle" stroke="#000">23</text>
<text x="1273.6" y="773" fill="#000" text-anchor="middle" stroke="#000">30</text>
<text x="1415.3" y="773" fill="#000" text-anchor="middle" stroke="#000">06</text>
<text x="1560" y="773" fill="#000" text-anchor="middle" stroke="#000">13</text>
<text x="1703" y="773" fill="#000" text-anchor="middle" stroke="#000">20</text>
<text x="1803.7" y="773" fill="#000" text-anchor="middle" stroke="#000">27</text>
<text x="294" y="788" fill="#000" textLength="47" lengthAdjust="spacingAndGlyphs" stroke="#000">April 2016</text>
<text x="912" y="788" fill="#000" textLength="47.6" lengthAdjust="spacingAndGlyphs" stroke="#000">May 2016</text>
<text x="1521" y="788" fill="#000" textLength="49.4" lengthAdjust="spacingAndGlyphs" stroke="#000">June 2016</text>
</svg></body></html>
